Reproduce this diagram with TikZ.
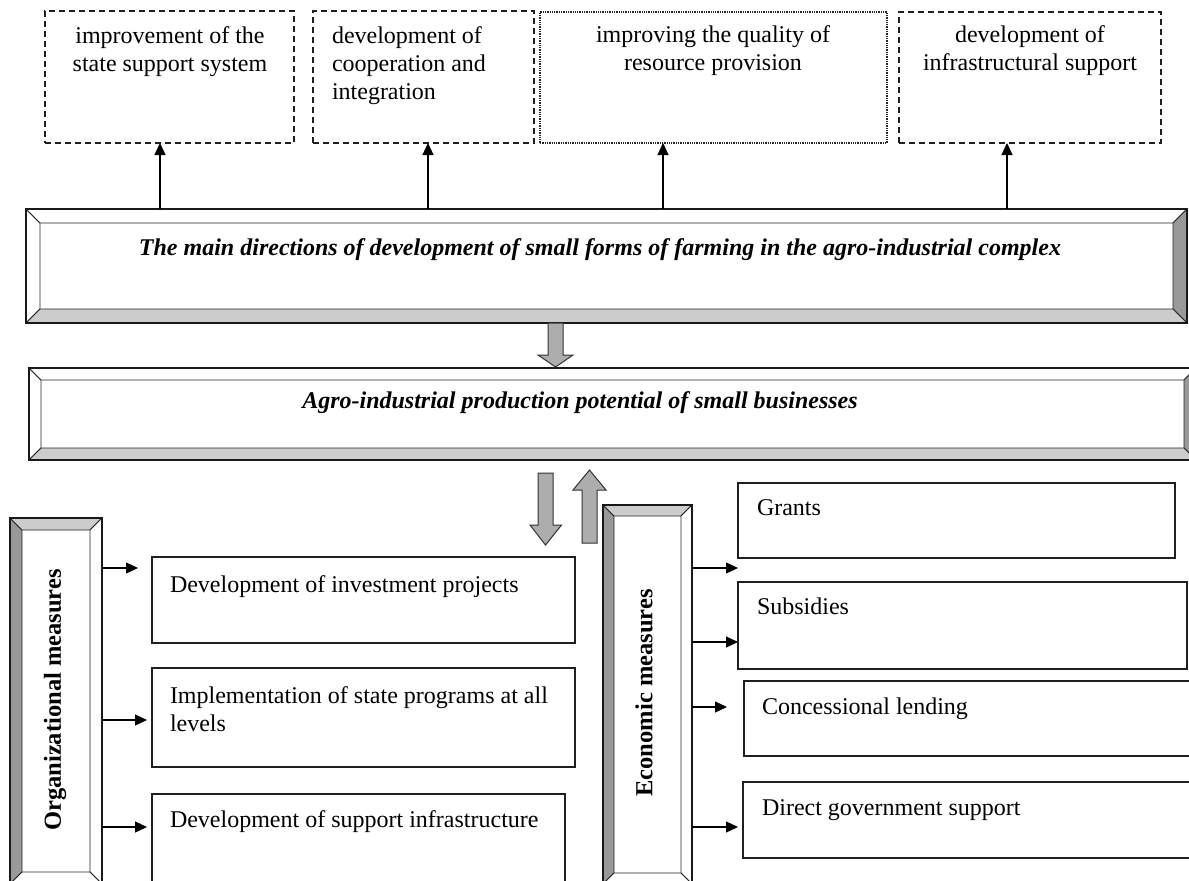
\documentclass[tikz,border=0pt]{standalone}
\usepackage{fontspec}
\setmainfont{Liberation Serif}
\usetikzlibrary{arrows.meta,calc}

\tikzset{
  x=1pt,y=-1pt,
  txt/.style={font=\fontsize{24}{28}\selectfont, inner sep=0pt, outer sep=0pt},
  line/.style={draw=black!88, line width=1.2pt},
  boxbase/.style={rectangle, anchor=north west, inner sep=0pt, outer sep=0pt},
  dashbox/.style={boxbase, line, dash pattern=on 6pt off 4pt},
  dotbox/.style={boxbase, draw=black!85, line width=1.1pt, dash pattern=on 1.3pt off 1pt},
  plainbox/.style={boxbase, line},
  bevelouter/.style={boxbase, draw=black!90, line width=1.3pt},
  arr/.style={draw=black, line width=1.2pt, -{Triangle[length=12pt,width=11pt]}},
  blockarr/.style={fill=black!32, draw=black!80, line width=1pt, line join=miter},
  bevelpart/.style={draw=black!85, line width=0.9pt, line join=miter},
}

% #1 node name, #2 bevel size, #3 left col, #4 top col, #5 right col, #6 bottom col
\newcommand\mybevel[6]{%
  \filldraw[bevelpart, fill=#3] (#1.north west) -- ($(#1.north west)+(#2,#2)$) -- ($(#1.south west)+(#2,-#2)$) -- (#1.south west) -- cycle;
  \filldraw[bevelpart, fill=#4] (#1.north west) -- (#1.north east) -- ($(#1.north east)+(-#2,#2)$) -- ($(#1.north west)+(#2,#2)$) -- cycle;
  \filldraw[bevelpart, fill=#5] (#1.north east) -- (#1.south east) -- ($(#1.south east)+(-#2,-#2)$) -- ($(#1.north east)+(-#2,#2)$) -- cycle;
  \filldraw[bevelpart, fill=#6] (#1.south west) -- (#1.south east) -- ($(#1.south east)+(-#2,-#2)$) -- ($(#1.south west)+(#2,-#2)$) -- cycle;
  \draw[draw=black!90, line width=1.3pt] (#1.north west) rectangle (#1.south east);
}

\begin{document}
\begin{tikzpicture}
\useasboundingbox (0,0) rectangle (1189,881);
\clip (0,0) rectangle (1189,881);
\fill[white] (0,0) rectangle (1189,881);

% ---------- top boxes ----------
\node[dashbox, minimum width=249pt, minimum height=132pt] (d1) at (45,11) {};
\node[dashbox, minimum width=221pt, minimum height=132pt] (d2) at (313,11) {};
\node[dotbox,  minimum width=347pt, minimum height=131pt] (d3) at (540,12) {};
\node[dashbox, minimum width=262pt, minimum height=131pt] (d4) at (899,12) {};

\node[txt, align=center, anchor=north] (t1) at (170,27) {improvement of the\\state support system};
\node[txt, align=left, anchor=north west] (t2) at (332,27) {development of\\cooperation and\\integration};
\node[txt, align=center, anchor=north] (t3) at (713,26) {improving the quality of\\resource provision};
\node[txt, align=center, anchor=north] (t4) at (1030,26) {development of\\infrastructural support};

% ---------- main bevel box ----------
\node[bevelouter, minimum width=1161pt, minimum height=114pt] (main) at (26,209) {};
\mybevel{main}{14}{white}{white}{black!40}{black!20}
\node[txt, font=\fontsize{24}{28}\selectfont\bfseries\itshape, anchor=base] (maintxt) at (600,255)
  {The main directions of development of small forms of farming in the agro-industrial complex};

\coordinate (c1) at (160,0);
\coordinate (c2) at (428,0);
\coordinate (c3) at (663,0);
\coordinate (c4) at (1007,0);
\draw[arr] (c1 |- main.north) -- (c1 |- d1.south);
\draw[arr] (c2 |- main.north) -- (c2 |- d2.south);
\draw[arr] (c3 |- main.north) -- (c3 |- d3.south);
\draw[arr] (c4 |- main.north) -- (c4 |- d4.south);

% ---------- second bevel box ----------
\node[bevelouter, minimum width=1167pt, minimum height=92pt] (pot) at (29,368) {};
\mybevel{pot}{12}{white}{white}{black!40}{black!20}
\node[txt, font=\fontsize{24}{28}\selectfont\bfseries\itshape, anchor=base] (pottxt) at (580,408)
  {Agro-industrial production potential of small businesses};

% block arrow main -> pot
\filldraw[blockarr] (548,323) -- (563,323) -- (563,355) -- (573,355) -- (555.5,367) -- (538,355) -- (548,355) -- cycle;

% ---------- vertical bevel boxes ----------
\node[bevelouter, minimum width=92pt, minimum height=366pt] (org) at (10,518) {};
\mybevel{org}{12}{black!40}{black!20}{white}{white}
\node[txt, font=\fontsize{24.5}{28}\selectfont\bfseries, rotate=90] (orgtxt) at (55,700) {Organizational measures};

\node[bevelouter, minimum width=89pt, minimum height=379pt] (eco) at (603,505) {};
\mybevel{eco}{11}{black!40}{black!20}{white}{white}
\node[txt, font=\fontsize{24.5}{28}\selectfont\bfseries, rotate=90] (ecotxt) at (644,693) {Economic measures};

% block arrows pot <-> measures
\filldraw[blockarr] (538,473) -- (553,473) -- (553,525) -- (561.5,525) -- (545.5,545) -- (530,525) -- (538,525) -- cycle;
\filldraw[blockarr] (582,543) -- (597,543) -- (597,490) -- (606,490) -- (589.5,470) -- (573,490) -- (582,490) -- cycle;

% ---------- left boxes ----------
\node[plainbox, minimum width=423pt, minimum height=86pt] (l1) at (152,557) {};
\node[plainbox, minimum width=423pt, minimum height=99pt] (l2) at (152,668) {};
\node[plainbox, minimum width=413pt, minimum height=100pt] (l3) at (152,794) {};
\node[txt, anchor=base west] (l1t) at (170,592) {Development of investment projects};
\node[txt, anchor=north west, align=left] (l2t) at (170,687) {Implementation of state programs at all\\levels};
\node[txt, anchor=base west] (l3t) at (170,827) {Development of support infrastructure};

\coordinate (oa1) at (138,568);
\coordinate (oa2) at (147,720);
\coordinate (oa3) at (147,827);
\draw[arr] (oa1 -| org.east) -- (oa1);
\draw[arr] (oa2 -| org.east) -- (oa2);
\draw[arr] (oa3 -| org.east) -- (oa3);

% ---------- right boxes ----------
\node[plainbox, minimum width=437pt, minimum height=75pt] (r1) at (738,483) {};
\node[plainbox, minimum width=449pt, minimum height=87pt] (r2) at (738,582) {};
\node[plainbox, minimum width=460pt, minimum height=75pt] (r3) at (744,681) {};
\node[plainbox, minimum width=460pt, minimum height=76pt] (r4) at (743,782) {};
\node[txt, anchor=base west] (r1t) at (757,515) {Grants};
\node[txt, anchor=base west] (r2t) at (757,614) {Subsidies};
\node[txt, anchor=base west] (r3t) at (762,714) {Concessional lending};
\node[txt, anchor=base west] (r4t) at (762,815) {Direct government support};

\coordinate (ea1) at (738,568);
\coordinate (ea2) at (738,642);
\coordinate (ea3) at (727,707);
\coordinate (ea4) at (738,827);
\draw[arr] (ea1 -| eco.east) -- (ea1);
\draw[arr] (ea2 -| eco.east) -- (ea2);
\draw[arr] (ea3 -| eco.east) -- (ea3);
\draw[arr] (ea4 -| eco.east) -- (ea4);
\end{tikzpicture}
\end{document}
